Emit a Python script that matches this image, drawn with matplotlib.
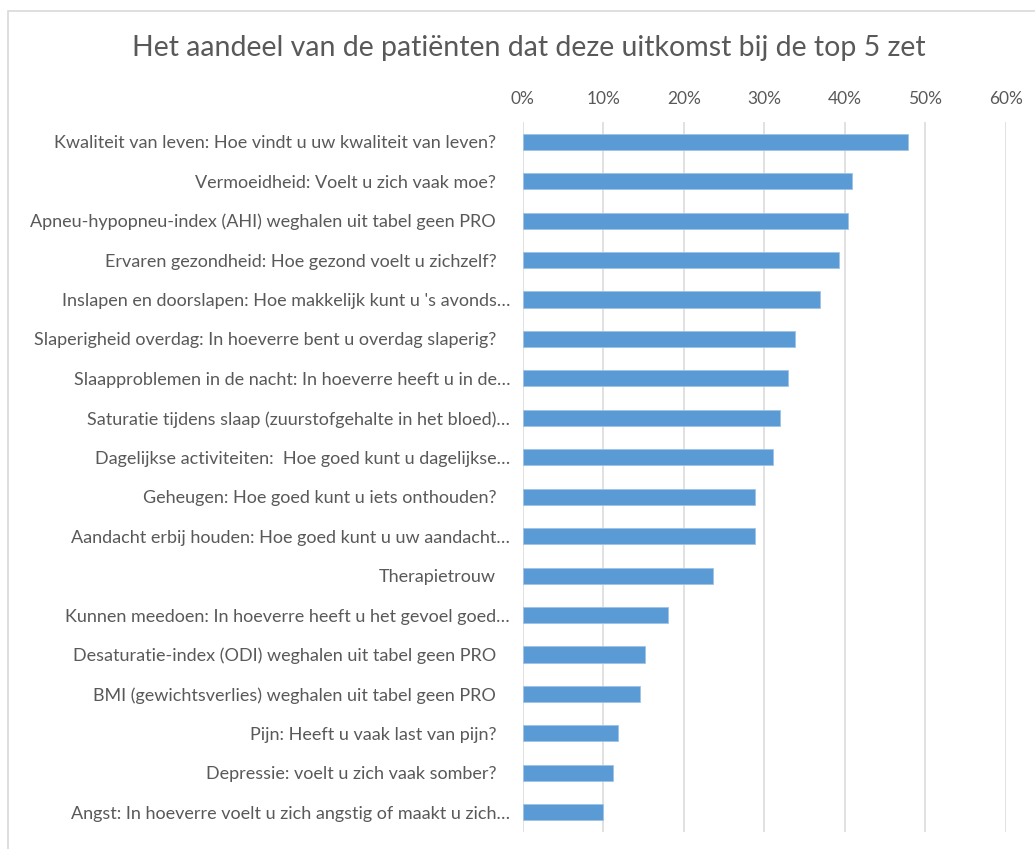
import matplotlib
matplotlib.use("Agg")
import matplotlib.pyplot as plt
from matplotlib.patches import Rectangle
from matplotlib.ticker import FuncFormatter

plt.rcParams['font.family'] = ['Lato', 'DejaVu Sans']

title = "Het aandeel van de patiënten dat deze uitkomst bij de top 5 zet"

categories = [
    "Kwaliteit van leven: Hoe vindt u uw kwaliteit van leven?",
    "Vermoeidheid: Voelt u zich vaak moe?",
    "Apneu-hypopneu-index (AHI) weghalen uit tabel geen PRO",
    "Ervaren gezondheid: Hoe gezond voelt u zichzelf?",
    "Inslapen en doorslapen: Hoe makkelijk kunt u 's avonds…",
    "Slaperigheid overdag: In hoeverre bent u overdag slaperig?",
    "Slaapproblemen in de nacht: In hoeverre heeft u in de…",
    "Saturatie tijdens slaap (zuurstofgehalte in het bloed)…",
    "Dagelijkse activiteiten:  Hoe goed kunt u dagelijkse…",
    "Geheugen: Hoe goed kunt u iets onthouden?",
    "Aandacht erbij houden: Hoe goed kunt u uw aandacht…",
    "Therapietrouw",
    "Kunnen meedoen: In hoeverre heeft u het gevoel goed…",
    "Desaturatie-index (ODI) weghalen uit tabel geen PRO",
    "BMI (gewichtsverlies) weghalen uit tabel geen PRO",
    "Pijn: Heeft u vaak last van pijn?",
    "Depressie: voelt u zich vaak somber?",
    "Angst: In hoeverre voelt u zich angstig of maakt u zich…",
]
values = [0.478, 0.409, 0.404, 0.393, 0.369, 0.338, 0.329, 0.319, 0.311,
          0.289, 0.288, 0.236, 0.181, 0.152, 0.146, 0.119, 0.112, 0.100]
xticks = [0.0, 0.1, 0.2, 0.3, 0.4, 0.5, 0.6]

W, H = 1035, 849
fig = plt.figure(figsize=(W / 100, H / 100), dpi=100)
fig.patch.set_facecolor('white')

# chart frame
fig.patches.append(Rectangle((8 / W, -0.1), 1.2, 1.1 - 11 / H,
                             transform=fig.transFigure, fill=False,
                             edgecolor='#d9d9d9', linewidth=1.2))

ax = fig.add_axes([522.6 / W, 17 / H, (1006 - 522.6) / W, (832 - 122) / H])
pos = list(range(len(categories)))
ax.barh(pos, values, height=0.41, color='#5b9bd5', edgecolor='#9dc3e6',
        linewidth=0.6, zorder=3)
ax.set_ylim(len(categories) - 0.5, -0.5)
ax.set_xlim(0, 0.6)
ax.set_xticks(xticks)
ax.xaxis.set_major_formatter(FuncFormatter(lambda v, p: f"{v*100:.0f}%"))
ax.xaxis.tick_top()
ax.set_yticks(pos)
ax.set_yticklabels(categories)
ax.tick_params(axis='x', length=0, pad=11, labelsize=12.5, labelcolor='#595959')
ax.tick_params(axis='y', length=0, labelsize=13.0, labelcolor='#595959')
for t, lab in zip(ax.yaxis.get_major_ticks(), categories):
    t.set_pad(9 if lab.endswith('…') else 19)
ax.grid(axis='x', color='#d9d9d9', linewidth=1.1, zorder=0)
for s in ax.spines.values():
    s.set_visible(False)

fig.text(529 / W, 1 - 48 / H, title, ha='center', va='center',
         fontsize=20.5, color='#595959')

fig.savefig('out.png', dpi=100)
